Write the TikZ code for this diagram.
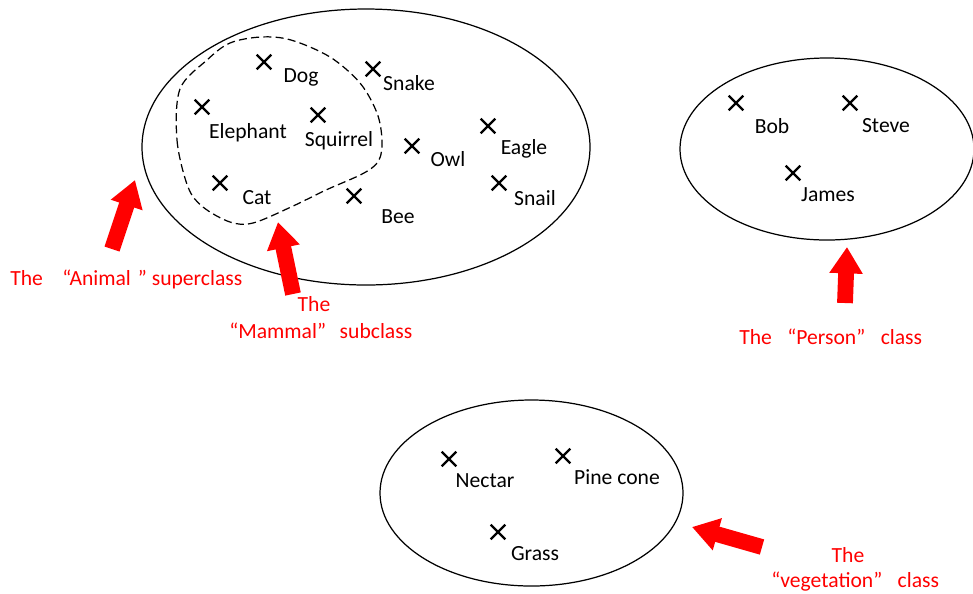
\documentclass[tikz,border=0pt]{standalone}
\usepackage{fontspec}
\setmainfont{Carlito}
\usetikzlibrary{shapes.misc,arrows.meta}
\tikzset{
  xmark/.style={cross out,draw,line width=1.3pt,minimum size=7pt,inner sep=0pt},
  lbl/.style={inner sep=0pt,font=\fontsize{12.3}{14}\selectfont},
  redlbl/.style={lbl,text=red},
  redarrow/.style={draw=red,line width=9pt,-{Triangle[width=18pt,length=15pt]}},
  classline/.style={line width=0.7pt}
}
\begin{document}
\begin{tikzpicture}[x=0.02cm,y=-0.02cm]
\useasboundingbox (0,0) rectangle (973,593);
% the three classes
\draw[classline] (366,147) ellipse [x radius=224,y radius=138];
\draw[classline] (827,149) ellipse [x radius=147,y radius=91];
\draw[classline] (531.5,493) ellipse [x radius=151.5,y radius=93];
% mammal subclass
\draw[line width=0.7pt,dash pattern=on 4.6pt off 2.4pt]
  plot[smooth cycle,tension=0.55] coordinates {(180,89) (177,140) (188,187) (203,207)
  (230,222) (253,223) (291,207) (326,190) (364,173) (379,160) (382,140) (377,113)
  (360,83) (330,57) (291,40) (261,37) (230,43) (207,60)};
% animals
\node[xmark] (dog) at (264,62) {};
\node[lbl] (doglbl) at (301,77) {Dog};
\node[xmark] (snake) at (373,69) {};
\node[lbl] (snakelbl) at (409,83) {Snake};
\node[xmark] (elephant) at (202,107) {};
\node[lbl] (elephantlbl) at (248,133) {Elephant};
\node[xmark] (squirrel) at (318,115) {};
\node[lbl] (squirrellbl) at (339,141) {Squirrel};
\node[xmark] (owl) at (412,146) {};
\node[lbl] (owllbl) at (448,159) {Owl};
\node[xmark] (eagle) at (488,126) {};
\node[lbl] (eaglelbl) at (524,149) {Eagle};
\node[xmark] (snail) at (499,183) {};
\node[lbl] (snaillbl) at (535,198) {Snail};
\node[xmark] (cat) at (220,183) {};
\node[lbl] (catlbl) at (257,198) {Cat};
\node[xmark] (bee) at (354,196) {};
\node[lbl] (beelbl) at (398,217) {Bee};
% persons
\node[xmark] (bob) at (736,103) {};
\node[lbl] (boblbl) at (772,126) {Bob};
\node[xmark] (steve) at (850,103) {};
\node[lbl] (stevelbl) at (886,126) {Steve};
\node[xmark] (james) at (793,173) {};
\node[lbl] (jameslbl) at (828,195) {James};
% vegetation
\node[xmark] (nectar) at (449,459) {};
\node[lbl] (nectarlbl) at (485,481) {Nectar};
\node[xmark] (pinecone) at (563,456) {};
\node[lbl] (pineconelbl) at (617,477) {Pine cone};
\node[xmark] (grass) at (498,532) {};
\node[lbl] (grasslbl) at (535,554) {Grass};
% red arrows
\coordinate (animaltail) at (112,249);
\coordinate (animaltip) at (135,180);
\coordinate (mammaltail) at (293,294);
\coordinate (mammaltip) at (278,222);
\coordinate (persontail) at (845,303);
\coordinate (persontip) at (847,247);
\coordinate (vegtail) at (762,547);
\coordinate (vegtip) at (692,527);
\draw[redarrow] (animaltail) -- (animaltip);
\draw[redarrow] (mammaltail) -- (mammaltip);
\draw[redarrow] (persontail) -- (persontip);
\draw[redarrow] (vegtail) -- (vegtip);
% captions
\node[redlbl,anchor=west] (animalcap) at (10,279) {The\hspace{11pt}“Animal\hspace{4pt}” superclass};
\node[redlbl] (mammalcap1) at (314,304) {The};
\node[redlbl,anchor=west] (mammalcap2) at (229,331) {“Mammal”\hspace{5pt} subclass};
\node[redlbl,anchor=west] (personcap) at (739,337) {The\hspace{6pt} “Person”\hspace{6pt} class};
\node[redlbl] (vegcap1) at (848,555) {The};
\node[redlbl,anchor=west] (vegcap2) at (771,582) {“vegetation”\hspace{6pt} class};
\end{tikzpicture}
\end{document}
